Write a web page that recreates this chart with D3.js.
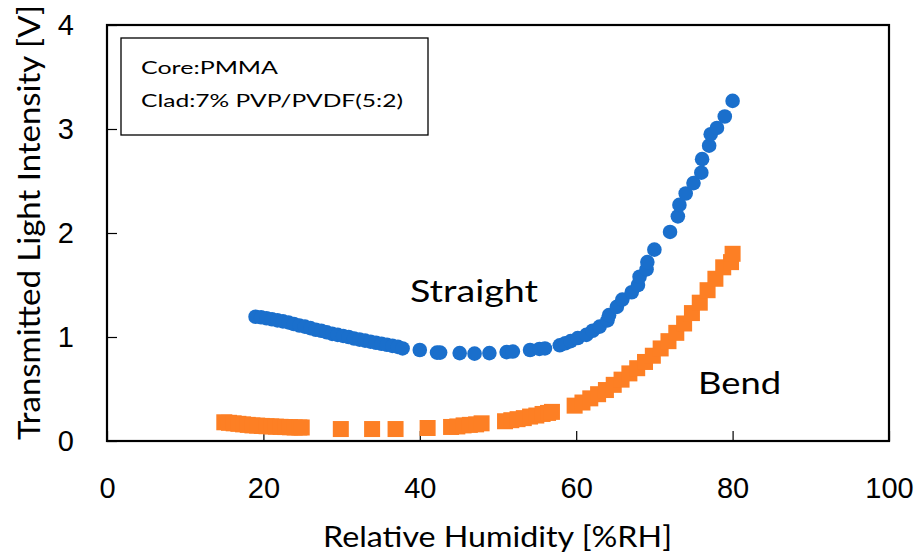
<!DOCTYPE html>
<html>
<head>
<meta charset="utf-8">
<script src="https://cdn.jsdelivr.net/npm/d3@7"></script>
<style>
  body { margin: 0; background: #fff; }
  svg { font-family: Lato, "Open Sans", sans-serif; }
  .axis .domain { display: none; }
  .axis line { stroke: #000; stroke-width: 1.2; }
  .axis text { font-size: 29px; fill: #000; }
</style>
</head>
<body>
<script>
// Transmitted light vs relative humidity (Straight / Bend)

var straightRH = [19.0, 19.7, 20.4, 21.1, 21.8, 22.5, 23.2, 23.9, 24.6, 25.3, 26.0, 26.7, 27.4, 28.1,
  28.8, 29.5, 30.2, 30.9, 31.6, 32.3, 33.0, 33.7, 34.4, 35.1, 35.8, 36.5, 37.2, 37.8,
  40.0, 42.2, 42.6, 45.1, 47.0, 48.9, 51.1, 51.9, 54.1, 55.3, 56.0, 57.9, 58.6, 59.3,
  60.2, 61.3, 62.1, 63.0, 64.0, 64.2, 65.2, 65.9, 67.1, 67.9, 68.1, 69.0, 69.1, 70.0,
  72.0, 73.0, 73.2, 74.0, 75.0, 76.0, 76.1, 77.0, 77.2, 78.0, 79.0, 80.0];
var straightV = [1.195, 1.19, 1.18, 1.17, 1.16, 1.15, 1.14, 1.125, 1.11, 1.10, 1.085, 1.07, 1.06, 1.045,
  1.03, 1.02, 1.01, 1.0, 0.985, 0.975, 0.965, 0.955, 0.945, 0.935, 0.925, 0.915, 0.905, 0.89,
  0.875, 0.85, 0.85, 0.845, 0.84, 0.845, 0.855, 0.86, 0.875, 0.885, 0.89, 0.92, 0.94, 0.96,
  0.99, 1.02, 1.06, 1.10, 1.16, 1.21, 1.29, 1.36, 1.43, 1.50, 1.58, 1.65, 1.72, 1.84,
  2.01, 2.16, 2.27, 2.38, 2.48, 2.58, 2.71, 2.84, 2.95, 3.01, 3.12, 3.27];

var bendRH = [15.0, 15.6, 16.2, 16.8, 17.4, 18.0, 18.6, 19.2, 19.8, 20.4, 21.0, 21.6, 22.2, 22.8,
  23.4, 24.0, 24.6, 24.9, 29.9, 33.9, 36.9, 41.0, 44.0, 44.8, 45.6, 46.4, 47.2, 47.9,
  50.9, 51.7, 52.5, 53.3, 54.1, 54.9, 55.7, 56.4, 56.9, 59.8, 60.8, 61.8, 62.8, 63.8,
  64.8, 65.8, 66.8, 67.8, 68.8, 69.8, 70.8, 71.8, 72.8, 73.8, 74.8, 75.8, 76.8, 77.8,
  78.8, 79.8, 80.0];
var bendV = [0.18, 0.175, 0.17, 0.165, 0.16, 0.155, 0.15, 0.148, 0.145, 0.142, 0.14, 0.138, 0.136, 0.134,
  0.132, 0.13, 0.13, 0.13, 0.115, 0.115, 0.115, 0.125, 0.135, 0.14, 0.15, 0.155, 0.16, 0.17,
  0.19, 0.20, 0.21, 0.22, 0.235, 0.245, 0.26, 0.27, 0.28, 0.34, 0.37, 0.41, 0.45, 0.49,
  0.54, 0.59, 0.65, 0.70, 0.76, 0.82, 0.89, 0.96, 1.04, 1.13, 1.23, 1.33, 1.45, 1.56,
  1.67, 1.72, 1.80];

var xTicks = [0, 20, 40, 60, 80, 100];
var yTicks = [0, 1, 2, 3, 4];
var noteLines = ["Core:PMMA", "Clad:7% PVP/PVDF(5:2)"];

var margin = {top: 25, right: 31, bottom: 112, left: 107};
var width = 920 - margin.left - margin.right;
var height = 553 - margin.top - margin.bottom;

var svg = d3.select("body").append("svg")
    .attr("width", 920)
    .attr("height", 553)
  .append("g")
    .attr("transform", "translate(" + margin.left + "," + margin.top + ")");

var x = d3.scaleLinear().domain([0, 100]).range([0, width]);
var y = d3.scaleLinear().domain([0, 4]).range([height, 0]);

// inward ticks, labels pushed out with padding
svg.append("g")
    .attr("class", "x axis")
    .attr("transform", "translate(0," + height + ")")
    .call(d3.axisBottom(x).tickValues(xTicks).tickFormat(d3.format("d"))
      .tickSizeInner(-10).tickSizeOuter(0).tickPadding(36));

svg.append("g")
    .attr("class", "y axis")
    .call(d3.axisLeft(y).tickValues(yTicks).tickFormat(d3.format("d"))
      .tickSizeInner(-10).tickSizeOuter(0).tickPadding(33));

svg.append("rect")
    .attr("width", width)
    .attr("height", height)
    .attr("fill", "none")
    .attr("stroke", "#000")
    .attr("stroke-width", 2.2);

// series
var straight = straightRH.map(function(d, i) { return {rh: d, v: straightV[i]}; });
var bend = bendRH.map(function(d, i) { return {rh: d, v: bendV[i]}; });

var sq = 16;
svg.selectAll(".bend")
    .data(bend)
  .enter().append("rect")
    .attr("class", "bend")
    .attr("x", function(d) { return x(d.rh) - sq / 2; })
    .attr("y", function(d) { return y(d.v) - sq / 2; })
    .attr("width", sq)
    .attr("height", sq)
    .attr("fill", "#fd7f24");

svg.selectAll(".straight")
    .data(straight)
  .enter().append("circle")
    .attr("class", "straight")
    .attr("cx", function(d) { return x(d.rh); })
    .attr("cy", function(d) { return y(d.v); })
    .attr("r", 7.3)
    .attr("fill", "#1a6fcc");

// note box
svg.append("rect")
    .attr("x", 121 - margin.left)
    .attr("y", 38 - margin.top)
    .attr("width", 307)
    .attr("height", 97)
    .attr("fill", "#fff")
    .attr("stroke", "#000")
    .attr("stroke-width", 1.3);

svg.selectAll(".note")
    .data(noteLines)
  .enter().append("text")
    .attr("class", "note")
    .attr("x", 141 - margin.left)
    .attr("y", function(d, i) { return 74 - margin.top + i * 33; })
    .attr("font-size", 18)
    .attr("textLength", function(d, i) { return i === 0 ? 137 : 262; })
    .attr("lengthAdjust", "spacingAndGlyphs")
    .text(function(d) { return d; });

// series labels
svg.append("text")
    .attr("x", 410 - margin.left)
    .attr("y", 302 - margin.top)
    .attr("font-size", 30)
    .attr("textLength", 128)
    .attr("lengthAdjust", "spacingAndGlyphs")
    .text("Straight");

svg.append("text")
    .attr("x", 698 - margin.left)
    .attr("y", 394 - margin.top)
    .attr("font-size", 30)
    .attr("textLength", 83)
    .attr("lengthAdjust", "spacingAndGlyphs")
    .text("Bend");

// axis titles
svg.append("text")
    .attr("x", 323 - margin.left)
    .attr("y", 547 - margin.top)
    .attr("font-size", 29)
    .attr("textLength", 349)
    .attr("lengthAdjust", "spacingAndGlyphs")
    .text("Relative Humidity [%RH]");

svg.append("text")
    .attr("transform", "translate(" + (40 - margin.left) + "," + (440 - margin.top) + ") rotate(-90)")
    .attr("font-size", 30)
    .attr("textLength", 435)
    .attr("lengthAdjust", "spacingAndGlyphs")
    .text("Transmitted Light Intensity [V]");
</script>
</body>
</html>
